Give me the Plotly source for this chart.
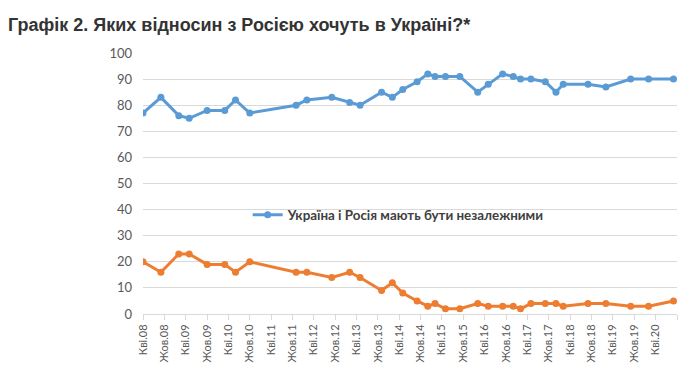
import plotly.graph_objects as go

dates = ["2008-04-01", "2008-09-01", "2009-02-01", "2009-05-01", "2009-10-01",
         "2010-03-01", "2010-06-01", "2010-10-01", "2011-11-01", "2012-02-01",
         "2012-09-01", "2013-02-01", "2013-05-01", "2013-11-01", "2014-02-01",
         "2014-05-01", "2014-09-01", "2014-12-01", "2015-02-01", "2015-05-01",
         "2015-09-01", "2016-02-01", "2016-05-01", "2016-09-01", "2016-12-01",
         "2017-02-01", "2017-05-01", "2017-09-01", "2017-12-01", "2018-02-01",
         "2018-09-01", "2019-02-01", "2019-09-01", "2020-02-01", "2020-09-01"]

independent = [77, 83, 76, 75, 78, 78, 82, 77, 80, 82,
               83, 81, 80, 85, 83, 86, 89, 92, 91, 91,
               91, 85, 88, 92, 91, 90, 90, 89, 85, 88,
               88, 87, 90, 90, 90]

unite = [20, 16, 23, 23, 19, 19, 16, 20, 16, 16,
         14, 16, 14, 9, 12, 8, 5, 3, 4, 2,
         2, 4, 3, 3, 3, 2, 4, 4, 4, 3,
         4, 4, 3, 3, 5]

tick_dates = ["2008-04-01", "2008-10-01", "2009-04-01", "2009-10-01", "2010-04-01",
              "2010-10-01", "2011-04-01", "2011-10-01", "2012-04-01", "2012-10-01",
              "2013-04-01", "2013-10-01", "2014-04-01", "2014-10-01", "2015-04-01",
              "2015-10-01", "2016-04-01", "2016-10-01", "2017-04-01", "2017-10-01",
              "2018-04-01", "2018-10-01", "2019-04-01", "2019-10-01", "2020-04-01",
              "2020-10-01"]
tick_labels = ["Кві.08", "Жов.08", "Кві.09", "Жов.09", "Кві.10", "Жов.10",
               "Кві.11", "Жов.11", "Кві.12", "Жов.12", "Кві.13", "Жов.13",
               "Кві.14", "Жов.14", "Кві.15", "Жов.15", "Кві.16", "Жов.16",
               "Кві.17", "Жов.17", "Кві.18", "Жов.18", "Кві.19", "Жов.19",
               "Кві.20", ""]

title = "Графік 2. Яких відносин з Росією хочуть в Україні?*"
name_independent = "Україна і Росія мають бути незалежними"
name_unite = "Україна і Росія мають об'єднатися"

fig = go.Figure()
fig.add_trace(go.Scatter(x=dates, y=independent, mode="lines+markers",
                         name="<b>" + name_independent + "</b>",
                         line=dict(color="#5B9BD5", width=3),
                         marker=dict(color="#5B9BD5", size=7)))
fig.add_trace(go.Scatter(x=dates, y=unite, mode="lines+markers",
                         name=name_unite, showlegend=False,
                         line=dict(color="#ED7D31", width=3),
                         marker=dict(color="#ED7D31", size=7)))

fig.update_layout(
    width=682, height=379,
    margin=dict(l=135, r=13, t=45, b=73),
    paper_bgcolor="white", plot_bgcolor="white",
    font=dict(family="Lato, Liberation Sans, sans-serif", color="#595959"),
    title=dict(text="<b>" + title + "</b>", x=0, xanchor="left",
               y=0.955, yanchor="middle", pad=dict(l=0, r=0, t=0, b=0),
               font=dict(family="Liberation Sans, Arial, sans-serif", size=18, color="#333333")),
    legend=dict(x=0.196, xanchor="left", y=0.379, yanchor="middle",
                bgcolor="rgba(0,0,0,0)",
                font=dict(family="Lato, sans-serif", size=13.4, color="#404040")),
    showlegend=True,
)
fig.update_xaxes(type="date", range=["2008-04-01", "2020-10-01"],
                 tickmode="array", tickvals=tick_dates, ticktext=tick_labels,
                 tickangle=-90, ticks="outside", ticklen=5, tickcolor="#d9d9d9",
                 showline=True, linecolor="#d9d9d9", linewidth=1,
                 showgrid=False, zeroline=False,
                 tickfont=dict(size=11, color="#595959"))
fig.update_yaxes(range=[0, 100], dtick=10, showgrid=True, gridcolor="#d9d9d9",
                 gridwidth=1, zeroline=False, showline=False, ticks="",
                 ticklabelstandoff=10,
                 tickfont=dict(size=13, color="#595959"))

fig.write_html("out.html")
